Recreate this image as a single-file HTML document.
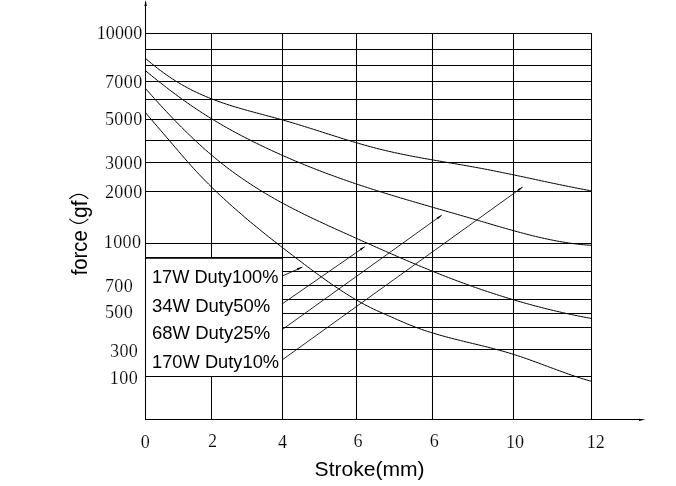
<!DOCTYPE html>
<html><head><meta charset="utf-8"><title>Force vs Stroke</title>
<style>
html,body{margin:0;padding:0;background:#fff;}
body{width:676px;height:486px;overflow:hidden;position:relative;font-family:"Liberation Sans",sans-serif;}
</style></head><body>
<svg width="676" height="486" viewBox="0 0 676 486" style="position:absolute;left:0;top:0;filter:grayscale(1)">
<g stroke="#000" stroke-width="1.05" fill="none" stroke-linecap="butt">
<path d="M145.5,2 V419.5"/>
<path d="M145,419.5 H642"/>
<path d="M211.5,33.5 V257.8"/>
<path d="M211.5,376.5 V419.5"/>
<path d="M282.5,33.5 V419.5"/>
<path d="M356.5,33.5 V419.5"/>
<path d="M432.5,33.5 V419.5"/>
<path d="M513.5,33.5 V419.5"/>
<path d="M591.5,33.5 V419.5"/>
<path d="M145.5,33.5 H592"/>
<path d="M145.5,49.5 H592"/>
<path d="M145.5,65.5 H592"/>
<path d="M145.5,81.5 H592"/>
<path d="M145.5,99.5 H592"/>
<path d="M145.5,119.5 H592"/>
<path d="M145.5,140.5 H592"/>
<path d="M145.5,162.4 H592"/>
<path d="M145.5,191.5 H592"/>
<path d="M145.5,243.5 H592"/>
<path d="M282.5,257.5 H592"/>
<path d="M282.5,271.5 H592"/>
<path d="M282.5,285.5 H592"/>
<path d="M282.5,299.5 H592"/>
<path d="M282.5,313.5 H592"/>
<path d="M282.5,327.5 H592"/>
<path d="M282.5,349.5 H592"/>
<path d="M145.5,376.5 H592"/>
</g>
<path d="M145,257.9 H283" stroke="#000" stroke-width="1.9" fill="none"/>
<g stroke="#000" stroke-width="1.0" fill="none">
<path d="M145.5,58.37 L148.5,60.96 L151.5,63.47 L154.5,65.91 L157.5,68.27 L160.5,70.56 L163.5,72.77 L166.5,74.91 L169.5,76.97 L172.5,78.96 L175.5,80.88 L178.5,82.72 L181.5,84.49 L184.5,86.19 L187.5,87.83 L190.5,89.40 L193.5,90.91 L196.5,92.36 L199.5,93.76 L202.5,95.10 L205.5,96.39 L208.5,97.63 L211.5,98.83 L214.5,99.98 L217.5,101.09 L220.5,102.16 L223.5,103.19 L226.5,104.19 L229.5,105.16 L232.5,106.11 L235.5,107.02 L238.5,107.91 L241.5,108.79 L244.5,109.64 L247.5,110.48 L250.5,111.30 L253.5,112.11 L256.5,112.92 L259.5,113.72 L262.5,114.51 L265.5,115.31 L268.5,116.11 L271.5,116.91 L274.5,117.72 L277.5,118.53 L280.5,119.36 L283.5,120.21 L286.5,121.07 L289.5,121.94 L292.5,122.83 L295.5,123.73 L298.5,124.65 L301.5,125.57 L304.5,126.50 L307.5,127.44 L310.5,128.38 L313.5,129.33 L316.5,130.28 L319.5,131.24 L322.5,132.20 L325.5,133.15 L328.5,134.11 L331.5,135.07 L334.5,136.02 L337.5,136.96 L340.5,137.90 L343.5,138.84 L346.5,139.77 L349.5,140.68 L352.5,141.59 L355.5,142.48 L358.5,143.37 L361.5,144.23 L364.5,145.09 L367.5,145.92 L370.5,146.74 L373.5,147.54 L376.5,148.32 L379.5,149.08 L382.5,149.82 L385.5,150.54 L388.5,151.24 L391.5,151.92 L394.5,152.58 L397.5,153.23 L400.5,153.86 L403.5,154.48 L406.5,155.09 L409.5,155.68 L412.5,156.26 L415.5,156.83 L418.5,157.39 L421.5,157.94 L424.5,158.48 L427.5,159.02 L430.5,159.55 L433.5,160.07 L436.5,160.59 L439.5,161.10 L442.5,161.62 L445.5,162.13 L448.5,162.64 L451.5,163.15 L454.5,163.66 L457.5,164.17 L460.5,164.69 L463.5,165.20 L466.5,165.73 L469.5,166.26 L472.5,166.79 L475.5,167.33 L478.5,167.88 L481.5,168.44 L484.5,169.01 L487.5,169.58 L490.5,170.17 L493.5,170.76 L496.5,171.36 L499.5,171.96 L502.5,172.58 L505.5,173.19 L508.5,173.81 L511.5,174.44 L514.5,175.07 L517.5,175.70 L520.5,176.34 L523.5,176.98 L526.5,177.62 L529.5,178.26 L532.5,178.90 L535.5,179.54 L538.5,180.18 L541.5,180.83 L544.5,181.47 L547.5,182.10 L550.5,182.74 L553.5,183.37 L556.5,184.00 L559.5,184.62 L562.5,185.24 L565.5,185.86 L568.5,186.47 L571.5,187.07 L574.5,187.67 L577.5,188.26 L580.5,188.84 L583.5,189.41 L586.5,189.98 L589.5,190.53 L591.5,190.90"/>
<path d="M145.5,70.73 L148.5,73.21 L151.5,75.66 L154.5,78.08 L157.5,80.48 L160.5,82.86 L163.5,85.21 L166.5,87.54 L169.5,89.84 L172.5,92.11 L175.5,94.35 L178.5,96.56 L181.5,98.74 L184.5,100.88 L187.5,103.00 L190.5,105.08 L193.5,107.13 L196.5,109.15 L199.5,111.13 L202.5,113.08 L205.5,115.00 L208.5,116.89 L211.5,118.74 L214.5,120.56 L217.5,122.35 L220.5,124.11 L223.5,125.84 L226.5,127.54 L229.5,129.22 L232.5,130.87 L235.5,132.49 L238.5,134.10 L241.5,135.68 L244.5,137.24 L247.5,138.78 L250.5,140.30 L253.5,141.80 L256.5,143.28 L259.5,144.75 L262.5,146.20 L265.5,147.63 L268.5,149.05 L271.5,150.44 L274.5,151.83 L277.5,153.19 L280.5,154.54 L283.5,155.88 L286.5,157.19 L289.5,158.50 L292.5,159.78 L295.5,161.06 L298.5,162.31 L301.5,163.56 L304.5,164.78 L307.5,166.00 L310.5,167.20 L313.5,168.38 L316.5,169.56 L319.5,170.72 L322.5,171.86 L325.5,173.00 L328.5,174.12 L331.5,175.22 L334.5,176.32 L337.5,177.40 L340.5,178.47 L343.5,179.53 L346.5,180.58 L349.5,181.62 L352.5,182.65 L355.5,183.66 L358.5,184.67 L361.5,185.67 L364.5,186.65 L367.5,187.63 L370.5,188.60 L373.5,189.56 L376.5,190.51 L379.5,191.46 L382.5,192.40 L385.5,193.33 L388.5,194.25 L391.5,195.17 L394.5,196.08 L397.5,196.99 L400.5,197.89 L403.5,198.78 L406.5,199.68 L409.5,200.56 L412.5,201.44 L415.5,202.32 L418.5,203.20 L421.5,204.07 L424.5,204.94 L427.5,205.81 L430.5,206.67 L433.5,207.54 L436.5,208.40 L439.5,209.26 L442.5,210.12 L445.5,210.99 L448.5,211.85 L451.5,212.71 L454.5,213.57 L457.5,214.43 L460.5,215.30 L463.5,216.16 L466.5,217.03 L469.5,217.90 L472.5,218.78 L475.5,219.65 L478.5,220.53 L481.5,221.41 L484.5,222.30 L487.5,223.18 L490.5,224.06 L493.5,224.94 L496.5,225.82 L499.5,226.69 L502.5,227.56 L505.5,228.42 L508.5,229.27 L511.5,230.12 L514.5,230.95 L517.5,231.77 L520.5,232.58 L523.5,233.38 L526.5,234.16 L529.5,234.93 L532.5,235.68 L535.5,236.41 L538.5,237.12 L541.5,237.81 L544.5,238.48 L547.5,239.13 L550.5,239.75 L553.5,240.35 L556.5,240.93 L559.5,241.47 L562.5,241.99 L565.5,242.48 L568.5,242.94 L571.5,243.36 L574.5,243.75 L577.5,244.11 L580.5,244.44 L583.5,244.72 L586.5,244.97 L589.5,245.19 L591.5,245.31"/>
<path d="M145.5,88.57 L148.5,91.96 L151.5,95.32 L154.5,98.65 L157.5,101.96 L160.5,105.23 L163.5,108.47 L166.5,111.68 L169.5,114.86 L172.5,118.00 L175.5,121.10 L178.5,124.16 L181.5,127.19 L184.5,130.18 L187.5,133.12 L190.5,136.02 L193.5,138.88 L196.5,141.69 L199.5,144.46 L202.5,147.18 L205.5,149.85 L208.5,152.47 L211.5,155.04 L214.5,157.56 L217.5,160.03 L220.5,162.44 L223.5,164.81 L226.5,167.13 L229.5,169.40 L232.5,171.63 L235.5,173.81 L238.5,175.95 L241.5,178.05 L244.5,180.11 L247.5,182.13 L250.5,184.10 L253.5,186.05 L256.5,187.95 L259.5,189.82 L262.5,191.66 L265.5,193.46 L268.5,195.23 L271.5,196.97 L274.5,198.68 L277.5,200.37 L280.5,202.02 L283.5,203.65 L286.5,205.26 L289.5,206.84 L292.5,208.39 L295.5,209.93 L298.5,211.45 L301.5,212.95 L304.5,214.43 L307.5,215.89 L310.5,217.34 L313.5,218.77 L316.5,220.19 L319.5,221.60 L322.5,222.99 L325.5,224.38 L328.5,225.75 L331.5,227.12 L334.5,228.49 L337.5,229.84 L340.5,231.20 L343.5,232.55 L346.5,233.89 L349.5,235.24 L352.5,236.59 L355.5,237.94 L358.5,239.28 L361.5,240.63 L364.5,241.97 L367.5,243.31 L370.5,244.65 L373.5,245.98 L376.5,247.32 L379.5,248.65 L382.5,249.97 L385.5,251.29 L388.5,252.61 L391.5,253.93 L394.5,255.23 L397.5,256.54 L400.5,257.83 L403.5,259.13 L406.5,260.41 L409.5,261.69 L412.5,262.96 L415.5,264.23 L418.5,265.48 L421.5,266.73 L424.5,267.97 L427.5,269.21 L430.5,270.43 L433.5,271.64 L436.5,272.85 L439.5,274.04 L442.5,275.23 L445.5,276.40 L448.5,277.57 L451.5,278.72 L454.5,279.86 L457.5,280.99 L460.5,282.10 L463.5,283.21 L466.5,284.30 L469.5,285.38 L472.5,286.45 L475.5,287.50 L478.5,288.55 L481.5,289.58 L484.5,290.60 L487.5,291.60 L490.5,292.60 L493.5,293.58 L496.5,294.55 L499.5,295.51 L502.5,296.45 L505.5,297.38 L508.5,298.30 L511.5,299.21 L514.5,300.10 L517.5,300.98 L520.5,301.85 L523.5,302.70 L526.5,303.54 L529.5,304.37 L532.5,305.19 L535.5,305.99 L538.5,306.78 L541.5,307.55 L544.5,308.32 L547.5,309.07 L550.5,309.80 L553.5,310.52 L556.5,311.23 L559.5,311.93 L562.5,312.61 L565.5,313.28 L568.5,313.93 L571.5,314.57 L574.5,315.20 L577.5,315.81 L580.5,316.41 L583.5,316.99 L586.5,317.57 L589.5,318.12 L591.5,318.49"/>
<path d="M145.5,112.68 L148.5,116.20 L151.5,119.72 L154.5,123.22 L157.5,126.72 L160.5,130.21 L163.5,133.70 L166.5,137.20 L169.5,140.71 L172.5,144.23 L175.5,147.74 L178.5,151.25 L181.5,154.75 L184.5,158.21 L187.5,161.64 L190.5,165.03 L193.5,168.36 L196.5,171.63 L199.5,174.83 L202.5,177.96 L205.5,181.03 L208.5,184.04 L211.5,187.00 L214.5,189.91 L217.5,192.78 L220.5,195.60 L223.5,198.39 L226.5,201.15 L229.5,203.86 L232.5,206.55 L235.5,209.20 L238.5,211.83 L241.5,214.42 L244.5,216.99 L247.5,219.53 L250.5,222.05 L253.5,224.54 L256.5,227.01 L259.5,229.46 L262.5,231.89 L265.5,234.30 L268.5,236.69 L271.5,239.06 L274.5,241.42 L277.5,243.77 L280.5,246.11 L283.5,248.43 L286.5,250.74 L289.5,253.05 L292.5,255.34 L295.5,257.63 L298.5,259.92 L301.5,262.19 L304.5,264.46 L307.5,266.72 L310.5,268.96 L313.5,271.18 L316.5,273.39 L319.5,275.57 L322.5,277.73 L325.5,279.87 L328.5,281.98 L331.5,284.06 L334.5,286.12 L337.5,288.13 L340.5,290.12 L343.5,292.06 L346.5,293.97 L349.5,295.84 L352.5,297.66 L355.5,299.44 L358.5,301.17 L361.5,302.85 L364.5,304.48 L367.5,306.06 L370.5,307.58 L373.5,309.04 L376.5,310.44 L379.5,311.79 L382.5,313.12 L385.5,314.43 L388.5,315.75 L391.5,317.08 L394.5,318.41 L397.5,319.72 L400.5,321.03 L403.5,322.32 L406.5,323.58 L409.5,324.81 L412.5,326.01 L415.5,327.17 L418.5,328.28 L421.5,329.35 L424.5,330.38 L427.5,331.37 L430.5,332.33 L433.5,333.25 L436.5,334.15 L439.5,335.02 L442.5,335.86 L445.5,336.69 L448.5,337.49 L451.5,338.27 L454.5,339.04 L457.5,339.80 L460.5,340.54 L463.5,341.27 L466.5,342.00 L469.5,342.73 L472.5,343.45 L475.5,344.18 L478.5,344.90 L481.5,345.63 L484.5,346.37 L487.5,347.12 L490.5,347.88 L493.5,348.66 L496.5,349.45 L499.5,350.26 L502.5,351.09 L505.5,351.94 L508.5,352.82 L511.5,353.73 L514.5,354.67 L517.5,355.64 L520.5,356.63 L523.5,357.66 L526.5,358.70 L529.5,359.76 L532.5,360.84 L535.5,361.94 L538.5,363.04 L541.5,364.15 L544.5,365.27 L547.5,366.39 L550.5,367.51 L553.5,368.63 L556.5,369.74 L559.5,370.84 L562.5,371.93 L565.5,373.01 L568.5,374.07 L571.5,375.11 L574.5,376.12 L577.5,377.11 L580.5,378.08 L583.5,379.01 L586.5,379.90 L589.5,380.76 L591.5,381.31"/>
</g>
<g stroke="#000" stroke-width="0.85" fill="none">
<path d="M282.5,275.9 L302.4,267.1"/>
<path d="M282.5,303.7 L364.9,246.6"/>
<path d="M282.5,329.4 L441.7,215.2"/>
<path d="M282.5,359.7 L522.7,187.0"/>
</g>
<g fill="#000" stroke="none">
<path d="M302.4,267.1 L297.8,270.3 L296.9,268.3Z"/>
<path d="M364.9,246.6 L361.0,250.6 L359.8,248.8Z"/>
<path d="M441.7,215.2 L437.9,219.3 L436.6,217.5Z"/>
<path d="M522.7,187.0 L518.9,191.1 L517.6,189.3Z"/>
<path d="M145.6,0 L146.9,6 L144.4,6Z"/>
<path d="M645.5,419.5 L639,418.7 L639,421.1Z"/>
</g>
<text font-family="Liberation Serif, serif" font-size="18.1" fill="#000" stroke="#fff" stroke-width="0.16" text-anchor="end" letter-spacing="0.05" transform="translate(142.25,39.1) scale(1,1.065)">10000</text>
<text font-family="Liberation Serif, serif" font-size="18.1" fill="#000" stroke="#fff" stroke-width="0.16" text-anchor="end" letter-spacing="0.35" transform="translate(142.54999999999998,88.4) scale(1,1.065)">7000</text>
<text font-family="Liberation Serif, serif" font-size="18.1" fill="#000" stroke="#fff" stroke-width="0.16" text-anchor="end" letter-spacing="0.35" transform="translate(142.54999999999998,124.9) scale(1,1.065)">5000</text>
<text font-family="Liberation Serif, serif" font-size="18.1" fill="#000" stroke="#fff" stroke-width="0.16" text-anchor="end" letter-spacing="0.35" transform="translate(142.54999999999998,168.8) scale(1,1.065)">3000</text>
<text font-family="Liberation Serif, serif" font-size="18.1" fill="#000" stroke="#fff" stroke-width="0.16" text-anchor="end" letter-spacing="0.35" transform="translate(142.54999999999998,197.6) scale(1,1.065)">2000</text>
<text font-family="Liberation Serif, serif" font-size="18.1" fill="#000" stroke="#fff" stroke-width="0.16" text-anchor="end" letter-spacing="0.35" transform="translate(141.35,248.4) scale(1,1.065)">1000</text>
<text font-family="Liberation Serif, serif" font-size="18.1" fill="#000" stroke="#fff" stroke-width="0.16" text-anchor="end" letter-spacing="0.35" transform="translate(133.15,291.7) scale(1,1.065)">700</text>
<text font-family="Liberation Serif, serif" font-size="18.1" fill="#000" stroke="#fff" stroke-width="0.16" text-anchor="end" letter-spacing="0.35" transform="translate(133.15,318.4) scale(1,1.065)">500</text>
<text font-family="Liberation Serif, serif" font-size="18.1" fill="#000" stroke="#fff" stroke-width="0.16" text-anchor="end" letter-spacing="0.35" transform="translate(138.25,356.7) scale(1,1.065)">300</text>
<text font-family="Liberation Serif, serif" font-size="18.1" fill="#000" stroke="#fff" stroke-width="0.16" text-anchor="end" letter-spacing="0.35" transform="translate(138.04999999999998,384.2) scale(1,1.065)">100</text>
<text font-family="Liberation Serif, serif" font-size="18.1" fill="#000" stroke="#fff" stroke-width="0.16" text-anchor="middle" letter-spacing="0" transform="translate(145.2,447.5) scale(1,1.065)">0</text>
<text font-family="Liberation Serif, serif" font-size="18.1" fill="#000" stroke="#fff" stroke-width="0.16" text-anchor="middle" letter-spacing="0" transform="translate(212.6,446.6) scale(1,1.065)">2</text>
<text font-family="Liberation Serif, serif" font-size="18.1" fill="#000" stroke="#fff" stroke-width="0.16" text-anchor="middle" letter-spacing="0" transform="translate(282.4,447.6) scale(1,1.065)">4</text>
<text font-family="Liberation Serif, serif" font-size="18.1" fill="#000" stroke="#fff" stroke-width="0.16" text-anchor="middle" letter-spacing="0" transform="translate(358,447.2) scale(1,1.065)">6</text>
<text font-family="Liberation Serif, serif" font-size="18.1" fill="#000" stroke="#fff" stroke-width="0.16" text-anchor="middle" letter-spacing="0" transform="translate(434.3,447.3) scale(1,1.065)">6</text>
<text font-family="Liberation Serif, serif" font-size="18.1" fill="#000" stroke="#fff" stroke-width="0.16" text-anchor="middle" letter-spacing="0" transform="translate(515,447.5) scale(1,1.065)">10</text>
<text font-family="Liberation Serif, serif" font-size="18.1" fill="#000" stroke="#fff" stroke-width="0.16" text-anchor="middle" letter-spacing="0" transform="translate(595.8,447.5) scale(1,1.065)">12</text>
<text font-family="Liberation Sans, sans-serif" font-size="18.1" fill="#000" transform="translate(152.0,283.2) scale(1.006,1)">17W Duty100%</text>
<text font-family="Liberation Sans, sans-serif" font-size="18.1" fill="#000" transform="translate(152.0,311.5) scale(1.023,1)">34W Duty50%</text>
<text font-family="Liberation Sans, sans-serif" font-size="18.1" fill="#000" transform="translate(152.0,338.9) scale(1.023,1)">68W Duty25%</text>
<text font-family="Liberation Sans, sans-serif" font-size="18.1" fill="#000" transform="translate(152.0,368.1) scale(1.012,1)">170W Duty10%</text>
<text font-family="Liberation Sans, sans-serif" font-size="20.2" fill="#000" transform="translate(314.6,476.1) scale(1.044,1)">Stroke(mm)</text>
<text font-family="Liberation Sans, sans-serif" font-size="20.3" fill="#000" transform="translate(87,275.3) rotate(-90) scale(1,1.09)">force</text>
<text font-family="Liberation Sans, sans-serif" font-size="21" fill="#000" transform="translate(87,217.9) rotate(-90) scale(1,1.05)">gf</text>
<g stroke="#000" stroke-width="1.1" fill="none">
<path d="M69.3,218.9 Q78.8,227.9 88.3,218.9"/>
<path d="M69.3,198.8 Q78.8,190.0 88.3,198.8"/>
</g>
</svg>
</body></html>
